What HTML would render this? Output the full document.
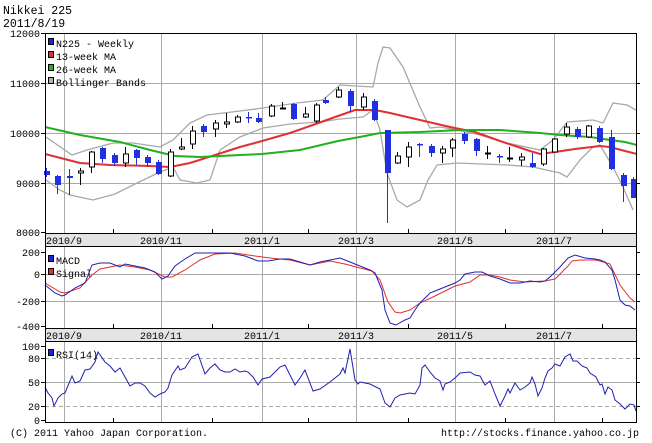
<!DOCTYPE html>
<html><head><meta charset="utf-8"><style>
body{margin:0;background:#fff}
svg{display:block;font-family:"Liberation Mono",monospace}
</style></head><body>
<svg width="652" height="443" viewBox="0 0 652 443" xmlns="http://www.w3.org/2000/svg">
<rect width="652" height="443" fill="#fff"/>
<text x="3" y="14" font-size="11.5">Nikkei 225</text>
<text x="3" y="27" font-size="11.5">2011/8/19</text>
<g stroke="#aaa" stroke-width="1">
<line x1="45" y1="83.5" x2="636" y2="83.5"/><line x1="45" y1="133.5" x2="636" y2="133.5"/><line x1="45" y1="183.5" x2="636" y2="183.5"/>
<line x1="64.5" y1="33" x2="64.5" y2="233"/><line x1="161.5" y1="33" x2="161.5" y2="233"/><line x1="262.5" y1="33" x2="262.5" y2="233"/><line x1="356.5" y1="33" x2="356.5" y2="233"/><line x1="455.5" y1="33" x2="455.5" y2="233"/><line x1="554.5" y1="33" x2="554.5" y2="233"/>
<line x1="64.5" y1="247" x2="64.5" y2="328"/><line x1="161.5" y1="247" x2="161.5" y2="328"/><line x1="262.5" y1="247" x2="262.5" y2="328"/><line x1="356.5" y1="247" x2="356.5" y2="328"/><line x1="455.5" y1="247" x2="455.5" y2="328"/><line x1="554.5" y1="247" x2="554.5" y2="328"/>
<line x1="45" y1="274.5" x2="636" y2="274.5"/><line x1="45" y1="301.5" x2="636" y2="301.5"/>
<line x1="64.5" y1="341" x2="64.5" y2="422"/><line x1="161.5" y1="341" x2="161.5" y2="422"/><line x1="262.5" y1="341" x2="262.5" y2="422"/><line x1="356.5" y1="341" x2="356.5" y2="422"/><line x1="455.5" y1="341" x2="455.5" y2="422"/><line x1="554.5" y1="341" x2="554.5" y2="422"/>
<line x1="45" y1="382.5" x2="636" y2="382.5"/>
</g>
<g stroke="#aaa" stroke-dasharray="4,3"><line x1="45" y1="358.5" x2="636" y2="358.5"/><line x1="45" y1="406.5" x2="636" y2="406.5"/></g>
<rect x="45.5" y="233.5" width="591" height="13" fill="#e4e4e4" stroke="#000"/>
<rect x="45.5" y="328.5" width="591" height="13" fill="#e4e4e4" stroke="#000"/>
<g font-size="10" text-anchor="middle">
<text x="64" y="244">2010/9</text><text x="161" y="244">2010/11</text><text x="262" y="244">2011/1</text><text x="356" y="244">2011/3</text><text x="455" y="244">2011/5</text><text x="554" y="244">2011/7</text>
<text x="64" y="339">2010/9</text><text x="161" y="339">2010/11</text><text x="262" y="339">2011/1</text><text x="356" y="339">2011/3</text><text x="455" y="339">2011/5</text><text x="554" y="339">2011/7</text>
</g>
<g fill="none" stroke="#a8a8a8" stroke-width="1.3">
<polyline points="46,137 72,155 87,150 113,143 133,143 160,147 173,140 190,123 207,115 240,111 263,108 297,103 323,100 340,85 373,87 378,63 383,47 390,48 403,67 420,107 430,128 440,127 457,130 480,135 507,143 540,150 553,140 567,122 593,120 603,123 613,103 627,105 636,110"/>
<polyline points="46,180 60,190 70,195 93,200 115,194 137,183 160,172 173,167 180,180 197,183 210,180 220,150 240,137 263,128 290,124 320,122 340,119 363,117 373,110 380,130 387,173 397,200 407,207 420,200 428,180 437,165 457,163 507,165 533,167 560,173 567,177 580,160 593,147 600,145 613,167 623,187 633,210"/>
</g>
<polyline fill="none" stroke="#e03030" stroke-width="2" points="45,154 80,163 110,165 150,166 170,167 190,163 215,155 240,147 262,141 290,133 310,126 338,116 355,110 375,110 390,113 420,120 450,127 475,132 500,141 530,151 540,154 555,152 575,149 600,146 610,147 625,151 637,154"/>
<polyline fill="none" stroke="#20b020" stroke-width="2" points="45,127 80,135 120,142 150,150 175,156 200,157 240,155 262,154 300,150 338,141 365,136 380,133 420,132 460,130 500,130 540,133 560,135 590,137 610,140 625,142 637,145"/>
<g stroke="#2030e0">
<line x1="46.5" y1="168" x2="46.5" y2="177"/><line x1="57.5" y1="175" x2="57.5" y2="194"/><line x1="69.5" y1="169" x2="69.5" y2="195"/><line x1="102.5" y1="147" x2="102.5" y2="163"/><line x1="114.5" y1="153" x2="114.5" y2="166"/><line x1="136.5" y1="149" x2="136.5" y2="165"/><line x1="147.5" y1="155" x2="147.5" y2="167"/><line x1="158.5" y1="160" x2="158.5" y2="175"/><line x1="203.5" y1="124" x2="203.5" y2="137"/><line x1="248.5" y1="112" x2="248.5" y2="123"/><line x1="258.5" y1="113" x2="258.5" y2="123"/><line x1="293.5" y1="103" x2="293.5" y2="120"/><line x1="325.5" y1="97" x2="325.5" y2="104"/><line x1="350.5" y1="89" x2="350.5" y2="112"/><line x1="374.5" y1="99" x2="374.5" y2="121"/><line x1="387.5" y1="130" x2="387.5" y2="223"/><line x1="419.5" y1="143" x2="419.5" y2="157"/><line x1="431.5" y1="144" x2="431.5" y2="157"/><line x1="464.5" y1="132" x2="464.5" y2="144"/><line x1="476.5" y1="138" x2="476.5" y2="156"/><line x1="499.5" y1="154" x2="499.5" y2="163"/><line x1="532.5" y1="153" x2="532.5" y2="168"/><line x1="577.5" y1="127" x2="577.5" y2="139"/><line x1="599.5" y1="126" x2="599.5" y2="143"/><line x1="611.5" y1="130" x2="611.5" y2="170"/><line x1="623.5" y1="173" x2="623.5" y2="202"/><line x1="633.5" y1="177" x2="633.5" y2="198"/>
</g>
<g fill="#2030e0">
<rect x="44" y="171" width="6" height="4"/><rect x="55" y="176" width="6" height="9"/><rect x="67" y="176" width="6" height="2"/><rect x="100" y="148" width="6" height="11"/><rect x="112" y="155" width="6" height="8"/><rect x="134" y="150" width="6" height="8"/><rect x="145" y="157" width="6" height="6"/><rect x="156" y="162" width="6" height="12"/><rect x="201" y="126" width="6" height="6"/><rect x="246" y="117" width="6" height="1.5"/><rect x="256" y="118" width="6" height="4"/><rect x="291" y="104" width="6" height="15"/><rect x="323" y="100" width="6" height="3"/><rect x="348" y="91" width="6" height="15"/><rect x="372" y="101" width="6" height="19"/><rect x="385" y="130" width="6" height="43"/><rect x="417" y="144" width="6" height="1.5"/><rect x="429" y="146" width="6" height="7"/><rect x="462" y="134" width="6" height="7"/><rect x="474" y="139" width="6" height="12"/><rect x="497" y="156" width="6" height="1.5"/><rect x="530" y="163" width="6" height="4"/><rect x="575" y="129" width="6" height="8"/><rect x="597" y="128" width="6" height="14"/><rect x="609" y="137" width="6" height="32"/><rect x="621" y="175" width="6" height="11"/><rect x="631" y="179" width="6" height="19"/>
</g>
<g stroke="#000">
<line x1="80.5" y1="168" x2="80.5" y2="185"/><line x1="91.5" y1="151" x2="91.5" y2="173"/><line x1="125.5" y1="147" x2="125.5" y2="167"/><line x1="170.5" y1="149" x2="170.5" y2="177"/><line x1="181.5" y1="138" x2="181.5" y2="150"/><line x1="192.5" y1="126" x2="192.5" y2="149"/><line x1="215.5" y1="120" x2="215.5" y2="137"/><line x1="226.5" y1="113" x2="226.5" y2="128"/><line x1="237.5" y1="115" x2="237.5" y2="123"/><line x1="271.5" y1="104" x2="271.5" y2="117"/><line x1="282.5" y1="102" x2="282.5" y2="109"/><line x1="305.5" y1="107" x2="305.5" y2="118"/><line x1="316.5" y1="103" x2="316.5" y2="123"/><line x1="338.5" y1="87" x2="338.5" y2="98"/><line x1="363.5" y1="93" x2="363.5" y2="110"/><line x1="397.5" y1="152" x2="397.5" y2="164"/><line x1="408.5" y1="142" x2="408.5" y2="167"/><line x1="442.5" y1="146" x2="442.5" y2="163"/><line x1="452.5" y1="138" x2="452.5" y2="157"/><line x1="487.5" y1="146" x2="487.5" y2="159"/><line x1="509.5" y1="147" x2="509.5" y2="162"/><line x1="521.5" y1="153" x2="521.5" y2="166"/><line x1="543.5" y1="148" x2="543.5" y2="166"/><line x1="554.5" y1="138" x2="554.5" y2="152"/><line x1="566.5" y1="123" x2="566.5" y2="137"/><line x1="588.5" y1="125" x2="588.5" y2="138"/>
</g>
<g fill="#fff" stroke="#000">
<rect x="78.5" y="171" width="5" height="2"/><rect x="89.5" y="152" width="5" height="15"/><rect x="123.5" y="154" width="5" height="9"/><rect x="168.5" y="152" width="5" height="24"/><rect x="179.5" y="147" width="5" height="2"/><rect x="190.5" y="131" width="5" height="13"/><rect x="213.5" y="123" width="5" height="6"/><rect x="224.5" y="122" width="5" height="2"/><rect x="235.5" y="117" width="5" height="5"/><rect x="269.5" y="106" width="5" height="10"/><rect x="280.5" y="108" width="5" height="1"/><rect x="303.5" y="114" width="5" height="3"/><rect x="314.5" y="105" width="5" height="16"/><rect x="336.5" y="90" width="5" height="7"/><rect x="361.5" y="97" width="5" height="10"/><rect x="395.5" y="156" width="5" height="7"/><rect x="406.5" y="147" width="5" height="10"/><rect x="440.5" y="149" width="5" height="4"/><rect x="450.5" y="140" width="5" height="8"/><rect x="485.5" y="153" width="5" height="1"/><rect x="507.5" y="158" width="5" height="1"/><rect x="519.5" y="157" width="5" height="3"/><rect x="541.5" y="149" width="5" height="15"/><rect x="552.5" y="139" width="5" height="13"/><rect x="564.5" y="127" width="5" height="7"/><rect x="586.5" y="126" width="5" height="11"/>
</g>
<g font-size="10">
<rect x="48.5" y="38.5" width="5" height="6" fill="#2020e0" stroke="#000"/><text x="56" y="47">N225 - Weekly</text>
<rect x="48.5" y="51.5" width="5" height="6" fill="#e03030" stroke="#000"/><text x="56" y="60">13-week MA</text>
<rect x="48.5" y="64.5" width="5" height="6" fill="#20b020" stroke="#000"/><text x="56" y="73">26-week MA</text>
<rect x="48.5" y="77.5" width="5" height="6" fill="#b0b0b0" stroke="#000"/><text x="56" y="86">Bollinger Bands</text>
<rect x="48.5" y="255.5" width="5" height="6" fill="#2020e0" stroke="#000"/><text x="56" y="264">MACD</text>
<rect x="48.5" y="268.5" width="5" height="6" fill="#e03030" stroke="#000"/><text x="56" y="277">Signal</text>
<rect x="48.5" y="349.5" width="5" height="6" fill="#2020e0" stroke="#000"/><text x="56" y="358">RSI(14)</text>
</g>
<polyline fill="none" stroke="#e03030" stroke-width="1" points="45,283 60,292 65,293 80,288 92,275 100,269 120,265 135,267 150,270 165,277 172,277 185,270 200,260 215,254 235,253 255,256 270,258 290,260 310,265 330,261 345,264 360,268 372,271 380,280 388,302 395,312 400,313 410,310 420,303 435,296 455,286 470,282 480,275 490,275 500,277 510,280 525,282 545,281 555,279 568,266 572,261 580,260 595,260 600,261 610,264 620,285 630,298 635,302"/>
<polyline fill="none" stroke="#2020b0" stroke-width="1" points="45,285 55,293 62,296 65,295 75,288 85,283 92,265 100,263 110,263 120,267 125,264 135,266 145,268 155,272 162,279 168,276 175,266 185,259 195,253 205,253 230,253 245,256 258,261 268,261 280,259 290,259 310,265 320,262 340,258 350,262 360,266 370,270 375,273 382,290 385,310 390,323 396,325 405,320 410,318 415,310 420,303 430,293 440,289 450,285 455,283 460,280 465,274 475,272 482,272 490,276 500,279 510,283 520,283 530,281 540,282 545,281 550,277 560,267 568,258 575,255 585,258 595,259 600,260 605,262 612,270 615,280 620,300 625,305 630,306 635,310"/>
<polyline fill="none" stroke="#2020b0" stroke-width="1" points="45,387 48,393 52,398 54,406 58,398 62,394 65,393 72,376 75,383 80,381 85,370 90,369 95,362 98,352 105,362 110,366 115,372 120,368 125,377 130,386 135,383 140,383 145,386 150,393 155,397 160,394 165,392 168,388 172,375 178,366 180,370 185,368 192,357 198,354 205,374 210,368 215,364 220,370 225,372 230,372 235,369 240,372 245,371 248,372 253,377 258,385 262,379 270,377 280,367 285,365 290,375 295,385 300,378 305,370 313,391 320,389 330,382 340,374 343,368 345,373 350,349 355,380 358,384 360,382 370,384 380,389 385,403 390,407 395,398 400,395 410,393 415,394 420,385 422,368 425,365 430,372 435,378 440,381 443,390 445,384 450,382 455,378 460,373 470,372 475,375 480,376 485,385 490,381 495,394 500,406 505,396 508,389 510,393 515,383 520,390 525,387 530,383 532,377 535,384 538,396 542,388 545,378 548,371 552,368 555,364 560,366 565,357 570,354 573,361 577,361 582,366 587,368 590,373 596,377 600,385 602,384 605,394 608,387 612,390 615,400 620,404 625,409 630,404 634,405 636,411"/>
<g fill="none" stroke="#000">
<rect x="45.5" y="33.5" width="591" height="200"/>
<rect x="45.5" y="246.5" width="591" height="82"/>
<rect x="45.5" y="341.5" width="591" height="81"/>
</g>
<g stroke="#000">
<line x1="41" y1="33.5" x2="45" y2="33.5"/><line x1="41" y1="83.5" x2="45" y2="83.5"/><line x1="41" y1="133.5" x2="45" y2="133.5"/><line x1="41" y1="183.5" x2="45" y2="183.5"/><line x1="41" y1="232.5" x2="45" y2="232.5"/>
<line x1="636" y1="83.5" x2="640" y2="83.5"/><line x1="636" y1="133.5" x2="640" y2="133.5"/><line x1="636" y1="183.5" x2="640" y2="183.5"/>
<line x1="41" y1="252.5" x2="45" y2="252.5"/><line x1="41" y1="274.5" x2="45" y2="274.5"/><line x1="41" y1="301.5" x2="45" y2="301.5"/><line x1="41" y1="326.5" x2="45" y2="326.5"/>
<line x1="636" y1="252.5" x2="640" y2="252.5"/><line x1="636" y1="274.5" x2="640" y2="274.5"/><line x1="636" y1="301.5" x2="640" y2="301.5"/>
<line x1="41" y1="346.5" x2="45" y2="346.5"/><line x1="41" y1="358.5" x2="45" y2="358.5"/><line x1="41" y1="382.5" x2="45" y2="382.5"/><line x1="41" y1="406.5" x2="45" y2="406.5"/><line x1="41" y1="420.5" x2="45" y2="420.5"/>
<line x1="636" y1="358.5" x2="640" y2="358.5"/><line x1="636" y1="382.5" x2="640" y2="382.5"/><line x1="636" y1="406.5" x2="640" y2="406.5"/>
<line x1="113.5" y1="229" x2="113.5" y2="233"/><line x1="212.5" y1="229" x2="212.5" y2="233"/><line x1="308.5" y1="229" x2="308.5" y2="233"/><line x1="408.5" y1="229" x2="408.5" y2="233"/><line x1="505.5" y1="229" x2="505.5" y2="233"/><line x1="602.5" y1="229" x2="602.5" y2="233"/>
<line x1="113.5" y1="324" x2="113.5" y2="328"/><line x1="212.5" y1="324" x2="212.5" y2="328"/><line x1="308.5" y1="324" x2="308.5" y2="328"/><line x1="408.5" y1="324" x2="408.5" y2="328"/><line x1="505.5" y1="324" x2="505.5" y2="328"/><line x1="602.5" y1="324" x2="602.5" y2="328"/>
<line x1="113.5" y1="418" x2="113.5" y2="422"/><line x1="212.5" y1="418" x2="212.5" y2="422"/><line x1="308.5" y1="418" x2="308.5" y2="422"/><line x1="408.5" y1="418" x2="408.5" y2="422"/><line x1="505.5" y1="418" x2="505.5" y2="422"/><line x1="602.5" y1="418" x2="602.5" y2="422"/>
</g>
<g font-size="10" text-anchor="end">
<text x="40" y="37">12000</text><text x="40" y="87">11000</text><text x="40" y="137">10000</text><text x="40" y="187">9000</text><text x="40" y="236">8000</text>
<text x="40" y="256">200</text><text x="40" y="278">0</text><text x="40" y="305">-200</text><text x="40" y="330">-400</text>
<text x="40" y="350">100</text><text x="40" y="362">80</text><text x="40" y="386">50</text><text x="40" y="410">20</text><text x="40" y="424">0</text>
</g>
<text x="10" y="436" font-size="10">(C) 2011 Yahoo Japan Corporation.</text>
<text x="639" y="436" font-size="10" text-anchor="end">http://stocks.finance.yahoo.co.jp</text>
</svg>
</body></html>
